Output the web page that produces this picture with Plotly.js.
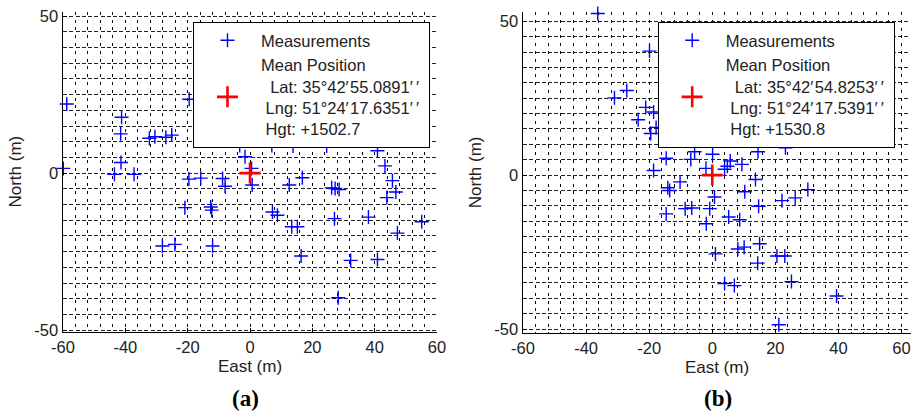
<!DOCTYPE html>
<html>
<head>
<meta charset="utf-8">
<script src="https://cdn.plot.ly/plotly-3.0.1.min.js"></script>
<style>
  html, body { margin: 0; padding: 0; background: #fff; }
  #chart { width: 916px; height: 412px; }
  #chart .gridlayer path, #chart .minor-gridlayer path { shape-rendering: crispEdges; }
</style>
</head>
<body>
<div id="chart"></div>
<script>
// ---------- data ----------
// Panel (a)
const eastA = [-58.8,-59.9,-41.2,-41.5,-41.4,-43.5,-37.2,-32.3,-30.5,-27.0,-25.1,-19.5,-19.6,-15.8,-8.8,-8.0,-20.9,-12.6,-12.3,-28.1,-24.1,-12.0,-1.6,0.5,0.7,12.6,16.8,7.2,8.8,13.4,15.2,16.4,26.2,27.3,28.6,27.1,28.3,32.3,38.0,40.9,40.9,43.3,45.7,46.8,43.9,47.3,55.1,-3.3,7.0,13.8,24.6];
const northA = [22.0,1.5,17.8,12.5,3.4,-0.4,-0.4,11.1,11.6,11.4,12.1,23.5,-1.9,-1.6,-1.7,-4.2,-11.0,-10.8,-11.8,-23.2,-22.7,-23.2,5.2,1.5,-3.8,-3.8,-1.5,-12.4,-13.4,-17.1,-17.1,-26.4,-4.7,-4.9,-5.2,-14.5,-39.7,-27.8,-14.0,-27.5,7.1,2.3,-2.4,-6.0,-7.8,-19.1,-15.5,8.8,8.8,8.6,8.6];
const meanA = {east: [0], north: [0]};
const infoA = ['Lat: 35°42′\u200a55.0891′\u2009′', 'Lng: 51°24′\u200a17.6351′\u2009′', 'Hgt: +1502.7'];

// Panel (b)
const eastB = [-36.3,-19.9,-31.0,-27.1,-21.1,-18.6,-23.5,-19.5,-17.8,-14.6,-6.8,-5.6,0.1,-18.6,-2.0,3.9,4.8,5.7,9.4,13.7,14.5,-14.1,-13.5,-10.2,0.7,10.3,22.1,26.3,30.3,-14.6,-8.6,-6.5,-0.8,-1.9,5.2,8.7,14.7,8.1,10.1,15.0,1.0,20.5,23.0,14.4,3.9,7.0,25.1,39.4,21.1,31.3,23.2];
const northB = [52.5,40.3,25.1,27.5,22.0,20.5,18.0,13.5,15.5,5.5,5.1,7.6,6.8,1.5,2.2,1.9,2.9,4.6,3.5,-1.4,7.6,-4.1,-5.0,-2.2,-7.1,-5.4,-8.3,-7.4,-4.7,-12.6,-10.9,-10.7,-10.9,-15.8,-13.6,-14.5,-10.1,-24.0,-23.4,-22.3,-25.6,-26.3,-26.3,-28.6,-35.2,-35.9,-34.6,-39.3,-48.6,-51.5,8.9];
const meanB = {east: [0], north: [0]};
const infoB = ['Lat: 35°42′\u200a54.8253′\u2009′', 'Lng: 51°24′\u200a17.5391′\u2009′', 'Hgt: +1530.8'];

const xTicks = [-60, -40, -20, 0, 20, 40, 60];
const yTicks = [-50, 0, 50];
const panelLabels = ['(a)', '(b)'];

// ---------- styling ----------
const FONT = 'Liberation Sans, Arial, sans-serif';
const TXT = '#222';
const NB = '\u00a0';

function meanName(info) {
  return 'Mean Position<br>' + NB + NB + info[0] + NB + '<br>' + NB + info[1] + '<br>' + NB + info[2];
}
function measTrace(x, y, xa, ya, lg) {
  return {
    type: 'scatter', mode: 'markers', x: x, y: y, xaxis: xa, yaxis: ya,
    name: 'Measurements', legend: lg, cliponaxis: false, hoverinfo: 'skip',
    marker: {symbol: 'cross-thin', size: 10, color: '#0000ff', line: {color: '#0000ff', width: 1.4}}
  };
}
function meanTrace(m, info, xa, ya, lg) {
  return {
    type: 'scatter', mode: 'markers', x: m.east, y: m.north, xaxis: xa, yaxis: ya,
    name: meanName(info), legend: lg, cliponaxis: false, hoverinfo: 'skip',
    marker: {symbol: 'cross-thin', size: 15, color: '#ff0000', line: {color: '#ff0000', width: 2.6}}
  };
}
const data = [
  measTrace(eastA, northA, 'x', 'y', 'legend'),
  meanTrace(meanA, infoA, 'x', 'y', 'legend'),
  measTrace(eastB, northB, 'x2', 'y2', 'legend2'),
  meanTrace(meanB, infoB, 'x2', 'y2', 'legend2')
];
function xAxis(domain, range, anchor) {
  return {
    domain: domain, range: range, anchor: anchor, automargin: false,
    tickmode: 'array', tickvals: xTicks, ticktext: xTicks.map(String),
    showline: true, linecolor: '#000', linewidth: 1.5, mirror: false,
    ticks: 'inside', ticklen: 4, tickwidth: 1, tickcolor: '#000',
    showgrid: true, gridcolor: '#000', gridwidth: 1, griddash: '3px,4.8px',
    minor: {dtick: 4, tick0: 0, showgrid: true, gridcolor: '#000', gridwidth: 1, griddash: '3px,4.8px', ticks: ''},
    zeroline: false,
    tickfont: {family: FONT, size: 16.5, color: TXT},
    title: {text: 'East (m)', font: {family: FONT, size: 17, color: TXT}, standoff: 5}
  };
}
function yAxis(domain, range, anchor) {
  return {
    domain: domain, range: range, anchor: anchor, automargin: false,
    tickmode: 'array', tickvals: yTicks, ticktext: yTicks.map(String),
    showline: true, linecolor: '#000', linewidth: 1.5, mirror: false,
    ticks: 'inside', ticklen: 4, tickwidth: 1, tickcolor: '#000',
    showgrid: true, gridcolor: '#222', gridwidth: 1, griddash: '4px,2.25px',
    minor: {dtick: 5, tick0: 0, showgrid: true, gridcolor: '#222', gridwidth: 1, griddash: '4px,2.25px', ticks: ''},
    zeroline: false,
    tickfont: {family: FONT, size: 16.5, color: TXT},
    title: {text: 'North (m)', font: {family: FONT, size: 17, color: TXT}, standoff: 8}
  };
}
function legendBox(x) {
  return {
    x: x, y: 0.9466, xanchor: 'left', yanchor: 'top',
    bgcolor: '#fff', bordercolor: '#000', borderwidth: 1,
    font: {family: FONT, size: 16.5, color: TXT},
    valign: 'middle', itemwidth: 57, tracegroupgap: 0
  };
}
const layout = {
  width: 916, height: 412,
  margin: {l: 0, r: 0, t: 0, b: 0},
  paper_bgcolor: '#fff', plot_bgcolor: '#fff',
  showlegend: true,
  xaxis: xAxis([63/916, 437/916], [-60, 60], 'y'),
  yaxis: yAxis([1 - 331.7/412, 1 - 11.7/412], [-50.5, 51.4], 'x'),
  xaxis2: xAxis([523/916, 911/916], [-60, 63], 'y2'),
  yaxis2: yAxis([1 - 332.7/412, 1 - 12/412], [-51.2, 53], 'x2'),
  legend: legendBox(193/916),
  legend2: legendBox(657.7/916),
  annotations: [
    {text: '<b>' + panelLabels[0] + '</b>', xref: 'paper', yref: 'paper', x: 245/916, y: 1 - 398/412,
     xanchor: 'center', yanchor: 'middle', showarrow: false,
     font: {family: 'Liberation Serif, Times New Roman, serif', size: 23, color: '#000'}},
    {text: '<b>' + panelLabels[1] + '</b>', xref: 'paper', yref: 'paper', x: 717.7/916, y: 1 - 398/412,
     xanchor: 'center', yanchor: 'middle', showarrow: false,
     font: {family: 'Liberation Serif, Times New Roman, serif', size: 23, color: '#000'}}
  ]
};
Plotly.newPlot('chart', data, layout, {staticPlot: true, displayModeBar: false});
</script>
</body>
</html>
